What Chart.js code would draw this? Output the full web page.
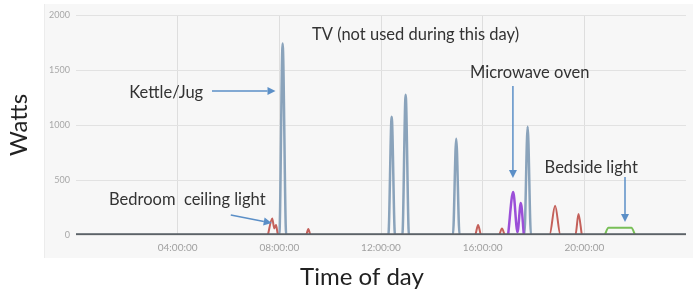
<!DOCTYPE html>
<html><head><meta charset="utf-8">
<script src="https://cdn.jsdelivr.net/npm/chart.js@4.4.1/dist/chart.umd.min.js"></script>
<style>html,body{margin:0;padding:0;background:#fff}#wrap{width:693px;height:290px}</style>
</head><body><div id="wrap"><canvas id="c" width="693" height="290"></canvas></div>
<script>
// ---- data (hours of day, watts) ----
const xTicks = [4, 8, 12, 16, 20];
const yTicks = [0, 500, 1000, 1500, 2000];
const baseTimes = [0, 24];
const baseWatts = [0, 0];
const kettleTimes = [0, 8.0, 8.13, 8.27, 12.29, 12.42, 12.55, 12.84, 12.97, 13.1, 14.83, 14.96, 15.09, 17.64, 17.77, 17.9, 24];
const kettleWatts = [0, 0, 1740, 0, 0, 1075, 0, 0, 1275, 0, 0, 875, 0, 0, 985, 0, 0];
const lightTimes = [7.55, 7.72, 7.8, 7.87, 7.95, 9.05, 9.14, 9.23, 15.7, 15.82, 15.94, 16.64, 16.76, 16.88, 18.63, 18.85, 19.06, 19.65, 19.77, 19.9];
const lightWatts = [0, 150, 60, 90, 0, 0, 55, 0, 0, 90, 0, 0, 60, 0, 0, 265, 0, 0, 190, 0];
const microTimes = [17.0, 17.2, 17.37, 17.5, 17.62];
const microWatts = [0, 390, 25, 290, 0];
const bedsideTimes = [20.8, 20.95, 21.85, 22.0];
const bedsideWatts = [0, 65, 65, 0];
// annotations: text, text anchor (h, W), arrow from (h, W) to (h, W)
const noteTexts = ["TV (not used during this day)", "Kettle/Jug", "Microwave oven", "Bedside light", "Bedroom  ceiling light"];
const noteAt = [[13.36, 1818], [3.55, 1290], [17.85, 1473], [20.27, 609], [4.38, 318]];
const arrowFrom = [null, [5.35, 1309], [17.19, 1355], [21.6, 527], [6.09, 182]];
const arrowTo = [null, [7.85, 1309], [17.19, 518], [21.6, 118], [7.7, 109]];
const xTitle = 'Time of day';

const pts = (t, w) => t.map((v, i) => ({x: v, y: w[i]}));
const FONT = "Lato, 'Open Sans', sans-serif";

const panelBg = {
  id: 'panelBg',
  beforeDraw(chart) {
    const {ctx, chartArea: a} = chart;
    ctx.save();
    ctx.fillStyle = '#f7f7f7';
    ctx.fillRect(a.left - 32, 4, chart.width - (a.left - 32), a.bottom + 23 - 4);
    ctx.strokeStyle = '#ececec';
    ctx.lineWidth = 1;
    ctx.beginPath();
    ctx.moveTo(a.left - 31.5, 4); ctx.lineTo(a.left - 31.5, a.bottom + 23);
    ctx.stroke();
    ctx.restore();
  }
};

const notes = {
  id: 'notes',
  afterDraw(chart) {
    const {ctx, chartArea: a} = chart;
    ctx.save();
    ctx.font = '24px ' + FONT;
    ctx.fillStyle = '#222';
    ctx.textAlign = 'center';
    ctx.textBaseline = 'middle';
    ctx.fillText(xTitle, (a.left + a.right) / 2 - 19, a.bottom + 42);
    ctx.restore();
  },
  afterDatasetsDraw(chart) {
    const {ctx, scales: {x, y}} = chart;
    ctx.save();
    ctx.font = '16.5px ' + FONT;
    ctx.fillStyle = '#333';
    ctx.textAlign = 'center';
    ctx.textBaseline = 'middle';
    noteTexts.forEach((t, i) => {
      ctx.fillText(t, x.getPixelForValue(noteAt[i][0]), y.getPixelForValue(noteAt[i][1]));
    });
    ctx.strokeStyle = '#5b8fc7';
    ctx.fillStyle = '#5b8fc7';
    ctx.lineWidth = 1.5;
    arrowFrom.forEach((f, i) => {
      if (!f) return;
      const x1 = x.getPixelForValue(f[0]), y1 = y.getPixelForValue(f[1]);
      const x2 = x.getPixelForValue(arrowTo[i][0]), y2 = y.getPixelForValue(arrowTo[i][1]);
      const ang = Math.atan2(y2 - y1, x2 - x1);
      const hl = 8, hw = 4;
      const bx = x2 - hl * Math.cos(ang), by = y2 - hl * Math.sin(ang);
      ctx.beginPath(); ctx.moveTo(x1, y1); ctx.lineTo(bx, by); ctx.stroke();
      ctx.beginPath();
      ctx.moveTo(x2, y2);
      ctx.lineTo(bx + hw * Math.sin(ang), by - hw * Math.cos(ang));
      ctx.lineTo(bx - hw * Math.sin(ang), by + hw * Math.cos(ang));
      ctx.closePath(); ctx.fill();
    });
    ctx.restore();
  }
};

const ds = (label, t, w, color, width) => ({
  label, data: pts(t, w), borderColor: color, borderWidth: width,
  pointRadius: 0, fill: false, cubicInterpolationMode: 'monotone'
});

new Chart(document.getElementById('c'), {
  type: 'line',
  data: {
    datasets: [
      ds('Total', baseTimes, baseWatts, '#5c6267', 3.5),
      ds('Bedside light', bedsideTimes, bedsideWatts, '#78bf57', 2),
      ds('Microwave oven', microTimes, microWatts, '#9b4fd8', 2.5),
      ds('Lights', lightTimes, lightWatts, '#c4605a', 2),
      ds('Kettle/Jug', kettleTimes, kettleWatts, '#8aa3bb', 2.5)
    ]
  },
  options: {
    responsive: false, animation: false, devicePixelRatio: 1,
    layout: {padding: {top: 15, right: 3, left: 0, bottom: 0}},
    plugins: {legend: {display: false}, tooltip: {enabled: false}},
    scales: {
      x: {
        type: 'linear', min: 0, max: 24,
        afterFit: s => { s.height = 55; },
        afterBuildTicks: s => { s.ticks = [0, ...xTicks, 24].map(v => ({value: v})); },
        ticks: {
          padding: 7, color: '#a0a0a0', font: {size: 10, family: FONT}, maxRotation: 0,
          callback: v => (v > 0 && v < 24) ? String(v).padStart(2, '0') + ':00:00' : ''
        },
        grid: {drawTicks: false, color: c => (c.tick && c.tick.value > 0 && c.tick.value < 24) ? '#dedede' : 'rgba(0,0,0,0)'},
        border: {display: false},
        title: {display: false}
      },
      y: {
        min: 0, max: 2000,
        afterFit: s => { s.width = 76; },
        afterBuildTicks: s => { s.ticks = yTicks.map(v => ({value: v})); },
        ticks: {padding: 6, color: '#a8a8a8', font: {size: 9, family: FONT}, callback: v => String(v)},
        grid: {drawTicks: false, color: '#e2e2e2'},
        border: {display: false},
        title: {display: true, text: 'Watts', color: '#222', font: {size: 24, family: FONT}, padding: {top: 5, bottom: 0}}
      }
    }
  },
  plugins: [panelBg, notes]
});
</script></body></html>
